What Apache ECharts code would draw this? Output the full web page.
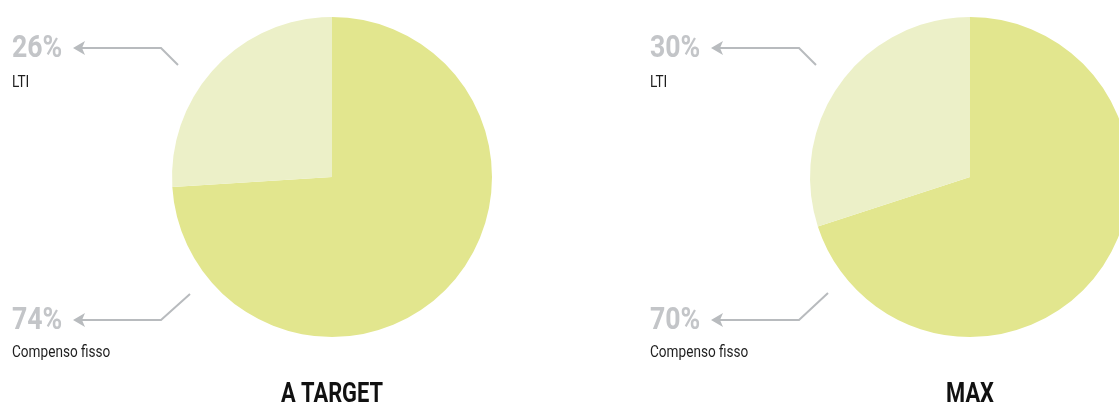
<!DOCTYPE html>
<html>
<head>
<meta charset="utf-8">
<script src="https://cdn.jsdelivr.net/npm/echarts@6/dist/echarts.min.js"></script>
<style>
  html, body { margin: 0; padding: 0; background: #ffffff; }
  #chart { width: 1119px; height: 407px; }
</style>
</head>
<body>
<div id="chart"></div>
<script>
// Pay-mix breakdown: fixed pay vs long-term incentive, at target and at maximum
const categories = ['Compenso fisso', 'LTI'];
const scenarios = ['A TARGET', 'MAX'];
const targetValues = [74, 26];
const maxValues = [70, 30];

const sliceColors = ['#e2e68e', '#ecf0c8'];
const pctColor = '#c3c5c8';
const arrowColor = '#b8bbbe';
const FONT = "Roboto, 'Liberation Sans', sans-serif";

const chart = echarts.init(document.getElementById('chart'), null, { renderer: 'canvas' });

function pieSeries(values, center) {
  return {
    type: 'pie',
    center: center,
    radius: 160,
    startAngle: 90,
    clockwise: true,
    silent: true,
    label: { show: false },
    labelLine: { show: false },
    emphasis: { disabled: true },
    itemStyle: { borderWidth: 0 },
    data: categories.map((name, i) => ({
      name: name,
      value: values[i],
      itemStyle: { color: sliceColors[i] }
    }))
  };
}

// text squeezed horizontally for a condensed look
function text(x, y, str, font, color, squeeze, align, vAlign) {
  return {
    type: 'text', x: x, y: y, scaleX: squeeze,
    style: { text: str, fill: color, font: font, textAlign: align, textVerticalAlign: vAlign }
  };
}

// Callout: percentage, category name and a bent arrow pointing at the slice
function callout(x, pctY, nameY, value, name, bendX, endX, endY) {
  const arrowY = pctY - 1;
  return [
    text(x, pctY, value + '%', 'bold 31px ' + FONT, pctColor, 0.86, 'left', 'middle'),
    text(x, nameY, name, '17px ' + FONT, '#1e1e1e', 0.8, 'left', 'top'),
    {
      type: 'polygon',
      shape: { points: [[x + 61, arrowY], [x + 73, arrowY - 7], [x + 70, arrowY], [x + 73, arrowY + 7]] },
      style: { fill: arrowColor }
    },
    {
      type: 'polyline',
      shape: { points: [[x + 70, arrowY], [bendX, arrowY], [endX, endY]] },
      style: { stroke: arrowColor, lineWidth: 2, fill: null }
    }
  ];
}

const graphics = [].concat(
  callout(12, 49, 74, targetValues[1], categories[1], 161, 178, 65),
  callout(12, 321, 344, targetValues[0], categories[0], 161, 190, 294),
  callout(650, 49, 74, maxValues[1], categories[1], 799, 816, 65),
  callout(650, 321, 344, maxValues[0], categories[0], 799, 828, 293),
  [
    text(332, 395, scenarios[0], 'bold 28px ' + FONT, '#111111', 0.78, 'center', 'middle'),
    text(970, 395, scenarios[1], 'bold 28px ' + FONT, '#111111', 0.78, 'center', 'middle')
  ]
);

chart.setOption({
  animation: false,
  backgroundColor: '#ffffff',
  series: [
    pieSeries(targetValues, [332, 177]),
    pieSeries(maxValues, [970, 177])
  ],
  graphic: graphics
});
</script>
</body>
</html>
